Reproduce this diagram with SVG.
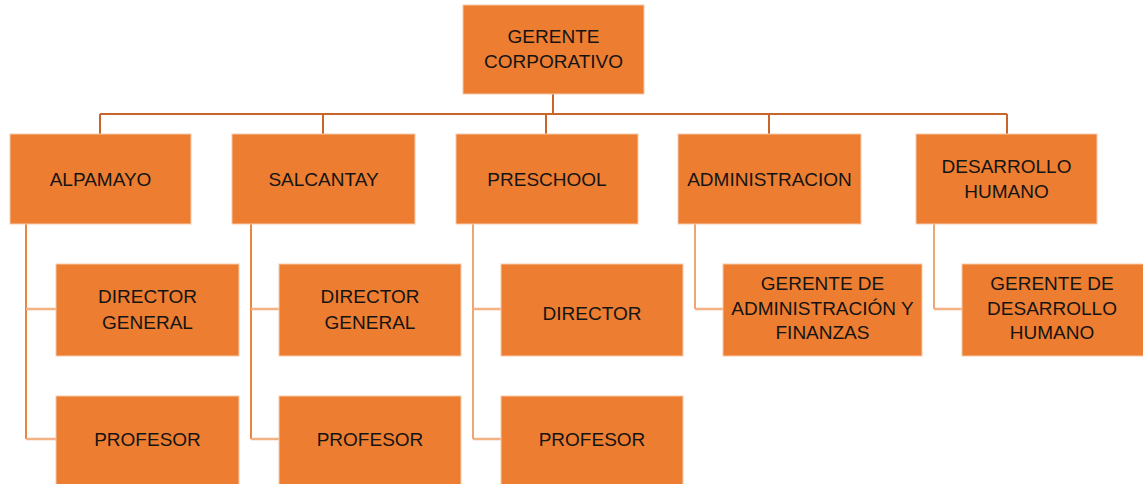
<svg xmlns="http://www.w3.org/2000/svg" width="1143" height="484" viewBox="0 0 1143 484">
<style>
.box{fill:#ED7D31;stroke:#F6C9A8;stroke-width:1}
.t{font-family:"Liberation Sans",Arial,sans-serif;font-size:19px;fill:#141414;text-anchor:middle}
.top{fill:none;stroke:#C8652A;stroke-width:2}
.vert{fill:none;stroke:#E9853F;stroke-width:2}
.vl{fill:none;stroke:#EFA474;stroke-width:2}
.hz{fill:none;stroke:#F4B183;stroke-width:2.5}
</style>
<rect width="1143" height="484" fill="#FFFFFF"/>
<g id="connectors">
<path class="top" d="M553,94 V114 M100,114 H1007 M100,114 V134 M323,114 V134 M546,114 V134 M769,114 V134 M1007,114 V134"/>
<path class="vert" d="M26,224 V439 M251,224 V439"/>
<path class="vl" d="M473,224 V439 M695,224 V309 M934,224 V309"/>
<path class="hz" d="M26,309 H56 M26,439 H56 M251,309 H279 M251,439 H279 M473,309 H501 M473,439 H501 M695,309 H723 M934,309 H962"/>
</g>
<g id="gerente-corporativo"><rect class="box" x="463" y="5" width="181" height="89"/><text class="t" x="553.5" y="43">GERENTE</text><text class="t" x="553.5" y="68">CORPORATIVO</text></g>
<g id="alpamayo"><rect class="box" x="10" y="134" width="181" height="90"/><text class="t" x="100.5" y="186">ALPAMAYO</text></g>
<g id="salcantay"><rect class="box" x="232" y="134" width="183" height="90"/><text class="t" x="323.5" y="186">SALCANTAY</text></g>
<g id="preschool"><rect class="box" x="456" y="134" width="182" height="90"/><text class="t" x="547" y="186">PRESCHOOL</text></g>
<g id="administracion"><rect class="box" x="678" y="134" width="183" height="90"/><text class="t" x="769.5" y="186">ADMINISTRACION</text></g>
<g id="desarrollo-humano"><rect class="box" x="916" y="134" width="181" height="90"/><text class="t" x="1006.5" y="173">DESARROLLO</text><text class="t" x="1006.5" y="198">HUMANO</text></g>
<g id="alpamayo-director"><rect class="box" x="56" y="264" width="183" height="92"/><text class="t" x="147.5" y="303">DIRECTOR</text><text class="t" x="147.5" y="329">GENERAL</text></g>
<g id="alpamayo-profesor"><rect class="box" x="56" y="396" width="183" height="92"/><text class="t" x="147.5" y="446">PROFESOR</text></g>
<g id="salcantay-director"><rect class="box" x="279" y="264" width="182" height="92"/><text class="t" x="370" y="303">DIRECTOR</text><text class="t" x="370" y="329">GENERAL</text></g>
<g id="salcantay-profesor"><rect class="box" x="279" y="396" width="182" height="92"/><text class="t" x="370" y="446">PROFESOR</text></g>
<g id="preschool-director"><rect class="box" x="501" y="264" width="182" height="92"/><text class="t" x="592" y="320">DIRECTOR</text></g>
<g id="preschool-profesor"><rect class="box" x="501" y="396" width="182" height="92"/><text class="t" x="592" y="446">PROFESOR</text></g>
<g id="gerente-admin"><rect class="box" x="723" y="264" width="199" height="92"/><text class="t" x="822.5" y="290">GERENTE DE</text><text class="t" x="822.5" y="315">ADMINISTRACIÓN Y</text><text class="t" x="822.5" y="339">FINANZAS</text></g>
<g id="gerente-dh"><rect class="box" x="962" y="264" width="185" height="92"/><text class="t" x="1052" y="290">GERENTE DE</text><text class="t" x="1052" y="315">DESARROLLO</text><text class="t" x="1052" y="339">HUMANO</text></g>
</svg>
